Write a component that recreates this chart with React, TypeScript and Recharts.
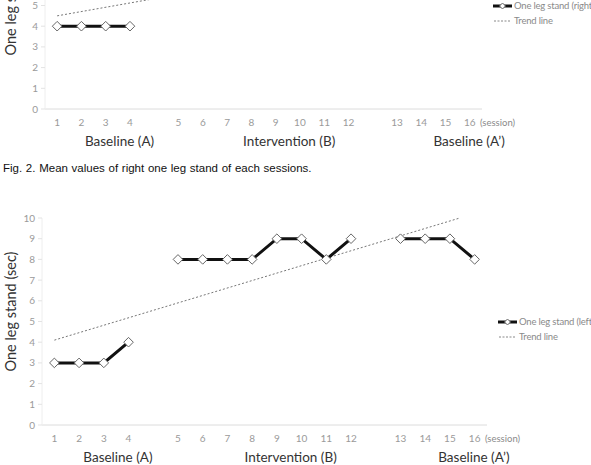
import React from "react";
import { LineChart, Line, XAxis, YAxis, Legend } from "recharts";

// sessions sit on 18 slots, with an empty slot between phases
const SESSIONS = [1, 2, 3, 4, 5, 6, 7, 8, 9, 10, 11, 12, 13, 14, 15, 16];
const SESSION_SLOTS = [1, 2, 3, 4, 6, 7, 8, 9, 10, 11, 12, 13, 15, 16, 17, 18];
const SLOT_COUNT = 18;

const PHASES = ["Baseline (A)", "Intervention (B)", "Baseline (A\u2019)"];
const PHASE_SLOTS = [2.9, 9.5, 16.5];

const Y_TICKS = [0, 1, 2, 3, 4, 5, 6, 7, 8, 9, 10];

// right leg (only the lower part of this chart is visible)
const RIGHT_STAND = [4, 4, 4, 4, 8, 8, 9, 9, 9, 10, 10, 10, 10, 10, 10, 10];
const RIGHT_TREND = [4.5, 7.9];

// left leg
const LEFT_STAND = [3, 3, 3, 4, 8, 8, 8, 8, 9, 9, 8, 9, 9, 9, 9, 8];
const LEFT_TREND = [4.1, 10.0];

const TREND_SLOTS = [1, 17.4];

const FONT = "Lato, 'Noto Sans', sans-serif";

function buildRows(values: number[]) {
  const rows: { slot: number; value: number | null }[] = [];
  for (let s = 1; s <= SLOT_COUNT; s++) {
    const i = SESSION_SLOTS.indexOf(s);
    rows.push({ slot: s, value: i >= 0 ? values[i] : null });
  }
  return rows;
}

function buildTrend(values: number[]) {
  return TREND_SLOTS.map((slot, i) => ({ slot, trend: values[i] }));
}

const Diamond = (props: any) => {
  const { cx, cy, value, index } = props;
  if (value == null || cx == null || cy == null) return <g key={index} />;
  const r = 4.8;
  return (
    <polygon
      key={index}
      points={`${cx},${cy - r} ${cx + r},${cy} ${cx},${cy + r} ${cx - r},${cy}`}
      fill="#fff"
      stroke="#666"
      strokeWidth={1}
    />
  );
};

const LegendBox = ({ name }: { name: string }) => (
  <div
    style={{
      fontFamily: FONT,
      fontSize: 9.5,
      letterSpacing: -0.2,
      color: "#8a8a8a",
      lineHeight: "15px",
      whiteSpace: "nowrap",
    }}
  >
    <div style={{ display: "flex", alignItems: "center" }}>
      <svg width={20} height={10}>
        <line x1={0} x2={19} y1={5} y2={5} stroke="#111" strokeWidth={3} />
        <polygon points="9.5,2 12.5,5 9.5,8 6.5,5" fill="#fff" stroke="#666" strokeWidth={1} />
      </svg>
      <span style={{ marginLeft: 1 }}>{name}</span>
    </div>
    <div style={{ display: "flex", alignItems: "center" }}>
      <svg width={20} height={10}>
        <line x1={1} x2={18} y1={5} y2={5} stroke="#888" strokeDasharray="2 1.5" strokeWidth={1} />
      </svg>
      <span style={{ marginLeft: 1 }}>Trend line</span>
    </div>
  </div>
);

function StandChart({
  values,
  trend,
  legendName,
  yWidth,
  rightMargin,
  legendLeft,
}: {
  values: number[];
  trend: number[];
  legendName: string;
  yWidth: number;
  rightMargin: number;
  legendLeft: number;
}) {
  const rows = buildRows(values);
  const trendRows = buildTrend(trend);
  return (
    <LineChart
      width={591}
      height={275}
      data={rows}
      margin={{ top: 28, right: rightMargin, left: 0, bottom: 0 }}
      style={{ fontFamily: FONT }}
    >
      <XAxis
        type="number"
        dataKey="slot"
        domain={[0.5, SLOT_COUNT + 0.5]}
        ticks={SESSION_SLOTS}
        interval={0}
        allowDataOverflow
        tickFormatter={(s) => String(SESSIONS[SESSION_SLOTS.indexOf(s)])}
        height={22}
        tickLine={false}
        tickMargin={4}
        axisLine={{ stroke: "#dcdcdc" }}
        tick={{ fontSize: 10, fill: "#9a9a9a" }}
        label={{
          content: ({ viewBox }: any) => (
            <text
              x={viewBox.x + viewBox.width - 2}
              y={viewBox.y + 13}
              dominantBaseline="central"
              fontSize={9.5}
              fill="#8a8a8a"
              fontFamily={FONT}
            >
              (session)
            </text>
          ),
        }}
      />
      <XAxis
        xAxisId="phase"
        type="number"
        domain={[0.5, SLOT_COUNT + 0.5]}
        ticks={PHASE_SLOTS}
        interval={0}
        allowDataOverflow
        tickFormatter={(s) => PHASES[PHASE_SLOTS.indexOf(s)]}
        height={18}
        axisLine={false}
        tickLine={false}
        tickSize={5}
        tickMargin={0}
        tick={{ fontSize: 13.5, fill: "#333" }}
      />
      <YAxis
        domain={[0, 10]}
        ticks={Y_TICKS}
        interval={0}
        width={yWidth}
        tickSize={4}
        tickMargin={3}
        tickLine={{ stroke: "#e3e3e3" }}
        axisLine={{ stroke: "#eeeeee" }}
        tick={{ fontSize: 10, fill: "#9a9a9a" }}
        label={{
          content: ({ viewBox }: any) => {
            const cy = viewBox.y + viewBox.height / 2 - 10;
            return (
              <text
                x={10}
                y={cy}
                transform={`rotate(-90 10 ${cy})`}
                textAnchor="middle"
                dominantBaseline="central"
                fontSize={14.5}
                fill="#333"
                fontFamily={FONT}
              >
                One leg stand (sec)
              </text>
            );
          },
        }}
      />
      <Legend
        layout="horizontal"
        verticalAlign="middle"
        align="center"
        wrapperStyle={{ left: legendLeft, top: 124, width: 120 }}
        content={() => <LegendBox name={legendName} />}
      />
      <Line
        data={trendRows}
        dataKey="trend"
        stroke="#777"
        strokeWidth={1}
        strokeDasharray="2 2"
        dot={false}
        activeDot={false}
        type="linear"
        isAnimationActive={false}
      />
      <Line
        dataKey="value"
        stroke="#111"
        strokeWidth={3}
        dot={Diamond}
        activeDot={false}
        type="linear"
        isAnimationActive={false}
      />
    </LineChart>
  );
}

export default function App() {
  return (
    <div
      style={{
        position: "absolute",
        left: 0,
        top: 0,
        width: 591,
        height: 465,
        overflow: "hidden",
        background: "#fff",
      }}
    >
      {/* Fig. 2, cropped at the top */}
      <div style={{ position: "absolute", left: 0, top: 0, width: 591, height: 152, overflow: "hidden" }}>
        <div style={{ position: "absolute", left: 0, top: -126 }}>
          <StandChart
            values={RIGHT_STAND}
            trend={RIGHT_TREND}
            legendName="One leg stand (right)"
            yWidth={45}
            rightMargin={109}
            legendLeft={493}
          />
        </div>
      </div>

      <div
        style={{
          position: "absolute",
          left: 3,
          top: 162,
          fontFamily: "'Liberation Sans', Arial, sans-serif",
          fontSize: 11.5,
          color: "#111",
          wordSpacing: 0.5,
          whiteSpace: "nowrap",
        }}
      >
        Fig. 2. Mean values of right one leg stand of each sessions.
      </div>

      <div style={{ position: "absolute", left: 0, top: 190 }}>
        <StandChart
          values={LEFT_STAND}
          trend={LEFT_TREND}
          legendName="One leg stand (left)"
          yWidth={42}
          rightMargin={104}
          legendLeft={498}
        />
      </div>
    </div>
  );
}
